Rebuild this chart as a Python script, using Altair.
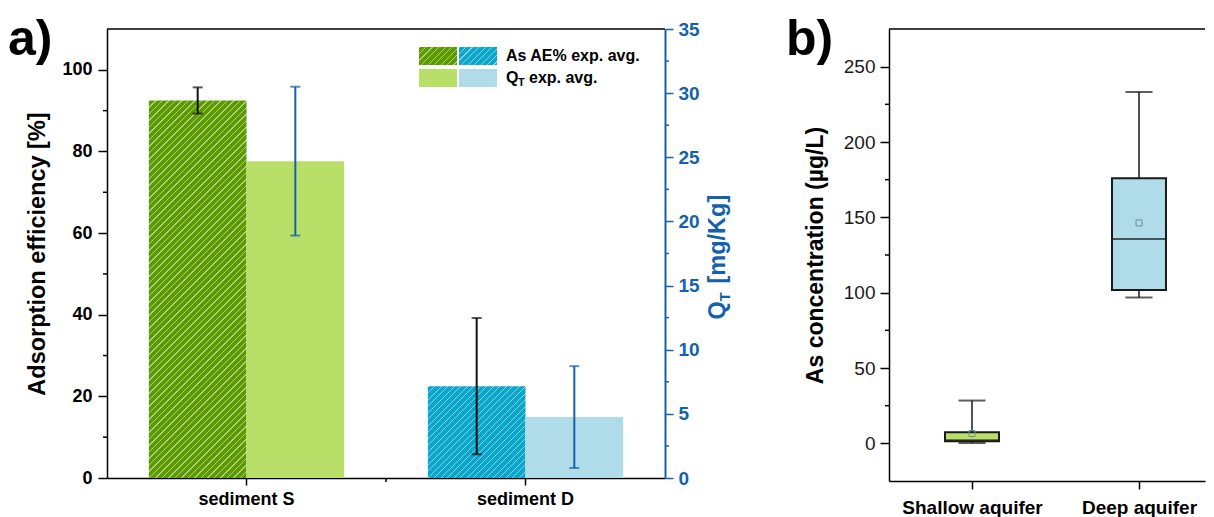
import altair as alt
import pandas as pd

FONT = "Liberation Sans"
BLUE = "#1461ad"

# ---------------- data ----------------
sediments = ["sediment S", "sediment D"]
kinds = ["AE", "QT"]
ae_mean = [92.5, 22.5]
ae_err = [3.2, 16.7]
qt_mean = [24.7, 4.75]
qt_err = [5.8, 3.97]

ae_ticks = [0, 20, 40, 60, 80, 100]
ae_minor = [10, 30, 50, 70, 90]
qt_ticks = [0, 5, 10, 15, 20, 25, 30, 35]
qt_minor = [2.5, 7.5, 12.5, 17.5, 22.5, 27.5, 32.5]

aquifers = ["Shallow aquifer", "Deep aquifer"]
box_min = [0.2, 96.8]
box_q1 = [1.4, 101.7]
box_median = [2.0, 135.7]
box_q3 = [7.3, 176.0]
box_max = [28.4, 233.2]
box_mean = [6.5, 146.3]

conc_ticks = [0, 50, 100, 150, 200, 250]
conc_minor = [25, 75, 125, 175, 225]

# ---------------- style ----------------
DARK_GREEN = "#5b9b00"
LIGHT_GREEN = "#b8e068"
CYAN = "#0aa6cc"
LIGHT_BLUE = "#b0dcea"
BOX_GREEN = "#c6e78c"
BOX_BLUE = "#add9e7"

W1, H1 = 558, 449
W2, H2 = 316, 452
AE_MAX, QT_MAX = 110, 35
BAR_W = (W1 / 2) * 0.7 / 2


def mix_white(c, t):
    c = c.lstrip("#")
    r, g, b = (int(c[i:i + 2], 16) for i in (0, 2, 4))
    r, g, b = (round(v + (255 - v) * t) for v in (r, g, b))
    return "#%02x%02x%02x" % (r, g, b)


def hatch(base, w, h, period=6.5, lw=1.4):
    line = mix_white(base, 0.5)
    s = (w + h) / (w / h + h / w)
    L = w + h
    stops = []
    pos = 0.0
    while pos < L:
        a = round(pos / L, 5)
        b = round(min(pos + lw, L) / L, 5)
        c = round(min(pos + period, L) / L, 5)
        stops += [
            {"offset": a, "color": line},
            {"offset": b, "color": line},
            {"offset": b, "color": base},
            {"offset": c, "color": base},
        ]
        pos += period
    return {"gradient": "linear", "x1": 0, "y1": 0, "x2": s / h, "y2": s / w, "stops": stops}


one = pd.DataFrame({"d": [0]})

# ---------------- panel a ----------------
xenc = alt.X(
    "sediment:N", sort=sediments,
    scale=alt.Scale(domain=sediments, paddingInner=0.3, paddingOuter=0.15),
    axis=alt.Axis(title=None, labelFont=FONT, labelFontSize=18, labelFontWeight="bold",
                  labelColor="black", labelAngle=0, labelPadding=5, tickSize=7,
                  tickColor="black", tickWidth=1.5, domainColor="black", domainWidth=1.5),
)
xoff = alt.XOffset("kind:N", scale=alt.Scale(domain=kinds, paddingInner=0, paddingOuter=0))

yae = alt.Scale(domain=[0, AE_MAX], nice=False, zero=False)
yqt = alt.Scale(domain=[0, QT_MAX], nice=False, zero=False)

ae_axis = alt.Axis(values=ae_ticks, title="Adsorption efficiency [%]", titleFont=FONT,
                   titleFontSize=23.5, titleFontWeight="bold", titleColor="black", titlePadding=12,
                   labelFont=FONT, labelFontSize=18, labelFontWeight="bold", labelColor="black",
                   labelPadding=6, tickSize=9, tickColor="black", tickWidth=1.5,
                   domainColor="black", domainWidth=1.5, grid=False)
qt_axis = alt.Axis(orient="right", values=qt_ticks, title=None, labelFont=FONT, labelFontSize=19,
                   labelFontWeight="bold", labelColor=BLUE, labelPadding=5, tickSize=8,
                   tickColor=BLUE, tickWidth=1.5, domainColor=BLUE, domainWidth=2, grid=False)

ae_df = pd.DataFrame({"sediment": sediments, "kind": ["AE", "AE"], "mean": ae_mean, "err": ae_err})
qt_df = pd.DataFrame({"sediment": sediments, "kind": ["QT", "QT"], "mean": qt_mean, "err": qt_err})

ae_base = alt.Chart(ae_df).transform_calculate(lo="datum.mean - datum.err", hi="datum.mean + datum.err")
qt_base = alt.Chart(qt_df).transform_calculate(lo="datum.mean - datum.err", hi="datum.mean + datum.err")

ae_layers = []
for i, (sed, col) in enumerate(zip(sediments, [DARK_GREEN, CYAN])):
    hpx = ae_mean[i] / AE_MAX * H1
    ae_layers.append(
        ae_base.transform_filter(alt.datum.sediment == sed)
        .mark_bar(fill=hatch(col, BAR_W, hpx))
        .encode(x=xenc, xOffset=xoff, y=alt.Y("mean:Q", scale=yae, axis=ae_axis))
    )
ae_layers.append(ae_base.mark_rule(color="#111111", strokeWidth=2).encode(
    x=xenc, xOffset=xoff, y=alt.Y("lo:Q", scale=yae, axis=ae_axis), y2="hi:Q"))
for f in ["lo", "hi"]:
    ae_layers.append(ae_base.mark_tick(color="#111111", size=10, thickness=2).encode(
        x=xenc, xOffset=xoff, y=alt.Y(f + ":Q", scale=yae, axis=ae_axis)))
ae_layers.append(alt.Chart(pd.DataFrame({"v": ae_minor})).mark_rule(color="black", strokeWidth=1.5).encode(
    y=alt.Y("v:Q", scale=yae, axis=ae_axis), x=alt.value(-4), x2=alt.value(0)))
ae_layer = alt.layer(*ae_layers)

qt_layers = [
    qt_base.mark_bar().encode(
        x=xenc, xOffset=xoff,
        y=alt.Y("mean:Q", scale=yqt, axis=qt_axis),
        color=alt.Color("sediment:N", scale=alt.Scale(domain=sediments, range=[LIGHT_GREEN, LIGHT_BLUE]), legend=None)),
    qt_base.mark_rule(color=BLUE, strokeWidth=2).encode(
        x=xenc, xOffset=xoff, y=alt.Y("lo:Q", scale=yqt, axis=qt_axis), y2="hi:Q"),
]
for f in ["lo", "hi"]:
    qt_layers.append(qt_base.mark_tick(color=BLUE, size=10, thickness=2).encode(
        x=xenc, xOffset=xoff, y=alt.Y(f + ":Q", scale=yqt, axis=qt_axis)))
qt_layers.append(alt.Chart(pd.DataFrame({"v": qt_minor})).mark_rule(color=BLUE, strokeWidth=1.5).encode(
    y=alt.Y("v:Q", scale=yqt, axis=qt_axis), x=alt.value(W1), x2=alt.value(W1 + 4)))
qt_layer = alt.layer(*qt_layers)

deco = alt.Chart(one)
deco_a = [
    deco.mark_rule(color="black", strokeWidth=1.5).encode(x=alt.value(0), x2=alt.value(W1), y=alt.value(0)),
    deco.mark_rule(color="black", strokeWidth=1.5).encode(x=alt.value(W1 / 2), y=alt.value(H1), y2=alt.value(H1 + 4)),
    deco.mark_text(text="a)", font=FONT, fontSize=50, fontWeight="bold", align="left",
                   baseline="alphabetic", color="black").encode(x=alt.value(-99), y=alt.value(26)),
    # legend swatches
    deco.mark_rect(fill=hatch(DARK_GREEN, 38, 18)).encode(
        x=alt.value(312), x2=alt.value(350), y=alt.value(18), y2=alt.value(36)),
    deco.mark_rect(fill=hatch(CYAN, 38, 18)).encode(
        x=alt.value(352), x2=alt.value(390), y=alt.value(18), y2=alt.value(36)),
    deco.mark_rect(fill=LIGHT_GREEN).encode(
        x=alt.value(312), x2=alt.value(350), y=alt.value(40), y2=alt.value(58)),
    deco.mark_rect(fill=LIGHT_BLUE).encode(
        x=alt.value(352), x2=alt.value(390), y=alt.value(40), y2=alt.value(58)),
    deco.mark_text(text="As AE% exp. avg.", font=FONT, fontSize=16, fontWeight="bold", align="left",
                   baseline="middle", color="black").encode(x=alt.value(399), y=alt.value(27)),
    deco.mark_text(text="Q", font=FONT, fontSize=16, fontWeight="bold", align="left",
                   baseline="middle", color="black").encode(x=alt.value(399), y=alt.value(49)),
    deco.mark_text(text="T", font=FONT, fontSize=11, fontWeight="bold", align="left",
                   baseline="middle", color="black").encode(x=alt.value(411), y=alt.value(54)),
    deco.mark_text(text="exp. avg.", font=FONT, fontSize=16, fontWeight="bold", align="left",
                   baseline="middle", color="black").encode(x=alt.value(422), y=alt.value(49)),
    # right axis title Q_T [mg/Kg]
    deco.mark_text(text="Q", font=FONT, fontSize=23.5, fontWeight="bold", align="left", angle=270,
                   baseline="middle", color=BLUE).encode(x=alt.value(W1 + 53), y=alt.value(H1 / 2 + 66)),
    deco.mark_text(text="T", font=FONT, fontSize=15, fontWeight="bold", align="left", angle=270,
                   baseline="middle", color=BLUE).encode(x=alt.value(W1 + 60), y=alt.value(H1 / 2 + 48)),
    deco.mark_text(text="[mg/Kg]", font=FONT, fontSize=23.5, fontWeight="bold", align="left", angle=270,
                   baseline="middle", color=BLUE).encode(x=alt.value(W1 + 53), y=alt.value(H1 / 2 + 30)),
]

panel_a = alt.layer(
    alt.layer(ae_layer, qt_layer).resolve_scale(y="independent"),
    *deco_a,
).properties(width=W1, height=H1)

# ---------------- panel b ----------------
box_df = pd.DataFrame({"aquifer": aquifers, "min": box_min, "q1": box_q1, "median": box_median,
                       "q3": box_q3, "max": box_max, "mean": box_mean})
xb = alt.X("aquifer:N", sort=aquifers,
           scale=alt.Scale(type="point", domain=aquifers, padding=0.446, align=0.557),
           axis=alt.Axis(title=None, labelFont=FONT, labelFontSize=19, labelFontWeight="bold",
                         labelColor="black", labelAngle=0, labelPadding=9, tickSize=8,
                         tickColor="black", tickWidth=1.5, domainColor="black", domainWidth=1.5))
yb = alt.Scale(domain=[-25, 275], nice=False, zero=False)
conc_axis = alt.Axis(values=conc_ticks, title="As concentration (µg/L)", titleFont=FONT,
                     titleFontSize=23, titleFontWeight="bold", titleColor="black", titlePadding=16,
                     labelFont=FONT, labelFontSize=19, labelColor="#1a1a1a", labelPadding=5,
                     tickSize=9, tickColor="black", tickWidth=1.5, domainColor="black",
                     domainWidth=1.5, grid=False)

bb = alt.Chart(box_df)
panel_b = alt.layer(
    bb.mark_rule(color="#1a1a1a", strokeWidth=1.5).encode(
        x=xb, y=alt.Y("q3:Q", scale=yb, axis=conc_axis), y2="max:Q"),
    bb.mark_rule(color="#1a1a1a", strokeWidth=1.5).encode(
        x=xb, y=alt.Y("min:Q", scale=yb, axis=conc_axis), y2="q1:Q"),
    bb.mark_tick(color="#1a1a1a", size=27, thickness=2).encode(
        x=xb, y=alt.Y("max:Q", scale=yb, axis=conc_axis)),
    bb.mark_tick(color="#1a1a1a", size=27, thickness=2).encode(
        x=xb, y=alt.Y("min:Q", scale=yb, axis=conc_axis)),
    bb.mark_bar(size=54, stroke="#1a1a1a", strokeWidth=2).encode(
        x=xb, y=alt.Y("q1:Q", scale=yb, axis=conc_axis), y2="q3:Q",
        color=alt.Color("aquifer:N", scale=alt.Scale(domain=aquifers, range=[BOX_GREEN, BOX_BLUE]), legend=None)),
    bb.mark_tick(color="#1a1a1a", size=54, thickness=2).encode(
        x=xb, y=alt.Y("median:Q", scale=yb, axis=conc_axis)),
    bb.mark_point(shape="square", size=36, filled=False, color="#6f8c9c", strokeWidth=1, opacity=1).encode(
        x=xb, y=alt.Y("mean:Q", scale=yb, axis=conc_axis)),
    alt.Chart(pd.DataFrame({"v": conc_minor})).mark_rule(color="black", strokeWidth=1.5).encode(
        y=alt.Y("v:Q", scale=yb, axis=conc_axis), x=alt.value(-4), x2=alt.value(0)),
    deco.mark_rule(color="black", strokeWidth=1.5).encode(x=alt.value(0), x2=alt.value(W2), y=alt.value(0)),
    deco.mark_text(text="b)", font=FONT, fontSize=50, fontWeight="bold", align="left",
                   baseline="alphabetic", color="black").encode(x=alt.value(-103), y=alt.value(26)),
).properties(width=W2, height=H2)

chart = alt.hconcat(panel_a, panel_b, spacing=53).properties(
    padding={"top": 7, "left": 0, "right": 0, "bottom": 0}).configure_view(
    stroke=None).configure_axis(grid=False)

chart.save("out.html", embed_options={"renderer": "svg", "actions": False})
